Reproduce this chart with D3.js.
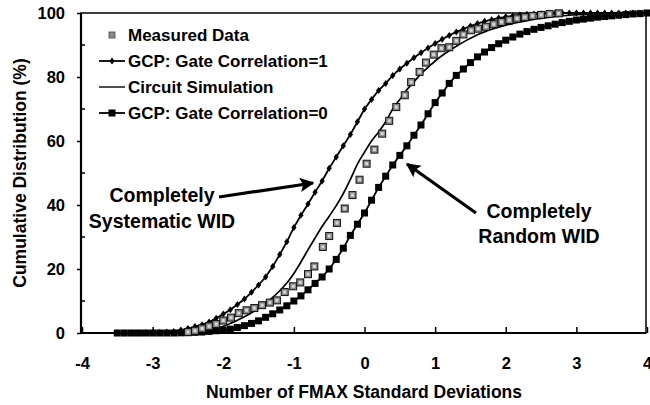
<!DOCTYPE html>
<html>
<head>
<meta charset="utf-8">
<script src="https://cdn.jsdelivr.net/npm/d3@7"></script>
<style>
  body { margin: 0; background: #fff; }
  text { font-family: "Liberation Sans", Arial, sans-serif; font-weight: bold; fill: #000; }
</style>
</head>
<body>
<svg id="chart" width="650" height="405"></svg>
<script>
(function () {
    var width = 650, height = 405;

    // model grid, -3.5 .. 4.0 in steps of 0.1 standard deviations
    const xGrid = [-3.5, -3.4, -3.3, -3.2, -3.1, -3.0, -2.9, -2.8, -2.7, -2.6,
        -2.5, -2.4, -2.3, -2.2, -2.1, -2.0, -1.9, -1.8, -1.7, -1.6,
        -1.5, -1.4, -1.3, -1.2, -1.1, -1.0, -0.9, -0.8, -0.7, -0.6,
        -0.5, -0.4, -0.3, -0.2, -0.1, 0.0, 0.1, 0.2, 0.3, 0.4,
        0.5, 0.6, 0.7, 0.8, 0.9, 1.0, 1.1, 1.2, 1.3, 1.4,
        1.5, 1.6, 1.7, 1.8, 1.9, 2.0, 2.1, 2.2, 2.3, 2.4,
        2.5, 2.6, 2.7, 2.8, 2.9, 3.0, 3.1, 3.2, 3.3, 3.4,
        3.5, 3.6, 3.7, 3.8, 3.9, 4.0];

    // GCP: Gate Correlation=1 (completely systematic)
    const gcpCorr1 = [0, 0, 0, 0, 0.1, 0.1, 0.2, 0.3, 0.5, 0.9,
        1.4, 2.0, 2.6, 3.4, 4.6, 5.9, 7.3, 8.9, 10.6, 12.7,
        15.0, 17.5, 20.8, 24.5, 28.5, 33.0, 36.8, 40.3, 44.0, 47.5,
        51.5, 55.0, 58.5, 62.0, 66.0, 70.0, 73.0, 75.8, 78.0, 80.5,
        82.5, 84.3, 86.0, 87.6, 89.1, 90.5, 91.8, 93.0, 94.1, 95.0,
        95.9, 96.7, 97.4, 97.9, 98.4, 98.8, 99.1, 99.4, 99.6, 99.7,
        99.8, 99.9, 100, 100, 100, 100, 100, 100, 100, 100,
        100, 100, 100, 100, 100, 100];

    // Circuit simulation
    const circuitSim = [0, 0, 0, 0, 0, 0, 0, 0, 0, 0.05,
        0.1, 0.2, 0.5, 0.8, 1.4, 2.1, 3.0, 4.0, 5.1, 6.3,
        7.7, 9.3, 11.1, 13.2, 15.6, 18.6, 22.2, 26.0, 29.7, 33.3,
        36.5, 39.8, 43.6, 48.0, 52.8, 56.5, 60.0, 62.8, 66.0, 70.0,
        73.0, 76.0, 78.5, 81.0, 83.0, 85.0, 86.7, 88.2, 89.6, 90.9,
        92.1, 93.2, 94.1, 94.9, 95.6, 96.2, 96.7, 97.2, 97.6, 98.0,
        98.3, 98.6, 98.9, 99.1, 99.3, 99.5, 99.6, 99.7, 99.8, 99.8,
        99.9, 99.9, 100, 100, 100, 100];

    // GCP: Gate Correlation=0 (completely random)
    const gcpCorr0 = [0, 0, 0, 0, 0, 0, 0, 0, 0, 0.05,
        0.1, 0.2, 0.3, 0.5, 0.7, 0.9, 1.2, 1.7, 2.3, 3.0,
        3.8, 4.9, 6.0, 7.2, 8.5, 10.0, 11.6, 13.5, 15.5, 17.5,
        20.0, 23.0, 26.5, 30.5, 34.0, 37.5, 41.5, 45.5, 49.0, 52.5,
        55.5, 58.5, 61.8, 65.0, 68.5, 72.0, 75.0, 78.0, 80.5, 82.5,
        84.5, 86.3, 87.8, 89.2, 90.4, 91.5, 92.5, 93.4, 94.2, 94.9,
        95.5, 96.0, 96.5, 97.0, 97.4, 97.8, 98.1, 98.4, 98.7, 98.9,
        99.1, 99.3, 99.5, 99.7, 99.8, 100];

    // measured data (x in std devs, y in %)
    const measuredX = [-2.5, -2.4, -2.3, -2.2, -2.1, -2.0, -1.89, -1.78, -1.67, -1.56,
        -1.45, -1.34, -1.24, -1.13, -1.01, -0.91, -0.8, -0.71, -0.59, -0.5,
        -0.39, -0.28, -0.17, -0.07, 0.03, 0.14, 0.25, 0.35, 0.45, 0.57,
        0.66, 0.78, 0.87, 0.98, 1.09, 1.2, 1.3, 1.4, 1.51, 1.61,
        1.72, 1.83, 1.94, 2.05, 2.16, 2.27, 2.38, 2.5, 2.62, 2.75];
    const measuredY = [0.3, 0.7, 1.4, 2.1, 2.8, 3.9, 4.8, 6.2, 7.1, 7.8,
        8.7, 9.5, 10.2, 12.8, 14.6, 15.8, 18.4, 20.8, 26.9, 30.3,
        34.4, 38.9, 43.1, 47.9, 52.9, 57.3, 62.3, 66.3, 70.6, 74.3,
        78.4, 81.6, 84.5, 87.0, 89.0, 89.3, 91.3, 93.3, 94.6, 95.1,
        95.7, 96.5, 97.2, 97.8, 98.3, 98.7, 99.1, 99.4, 99.7, 99.9];

    const xTicks = [-4, -3, -2, -1, 0, 1, 2, 3, 4];
    const yTicks = [0, 20, 40, 60, 80, 100];
    const yMinorTicks = [10, 30, 50, 70, 90];

    const legendLabels = ["Measured Data", "GCP: Gate Correlation=1", "Circuit Simulation", "GCP: Gate Correlation=0"];

    const left = 81, right = 646, top = 13, bottom = 333;

    const x = d3.scaleLinear().domain([-4, 4]).range([left + 1, right + 1]);
    const y = d3.scaleLinear().domain([0, 100]).range([bottom, top]);

    const svg = d3.select("#chart");

    const defs = svg.append("defs");
    defs.append("marker")
        .attr("id", "arrow")
        .attr("viewBox", "0 0 10 10")
        .attr("refX", 9).attr("refY", 5)
        .attr("markerWidth", 5.5).attr("markerHeight", 4.5)
        .attr("markerUnits", "strokeWidth")
        .attr("orient", "auto")
        .append("path")
        .attr("d", "M0,0 L10,5 L0,10 L2,5 z")
        .attr("fill", "#000");

    // frame
    svg.append("rect")
        .attr("x", left).attr("y", top)
        .attr("width", right - left).attr("height", bottom - top)
        .attr("fill", "none").attr("stroke", "#000").attr("stroke-width", 1.5);
    svg.append("line").attr("x1", left).attr("x2", left).attr("y1", top).attr("y2", bottom)
        .attr("stroke", "#000").attr("stroke-width", 2.2);
    svg.append("line").attr("x1", left).attr("x2", right).attr("y1", bottom).attr("y2", bottom)
        .attr("stroke", "#000").attr("stroke-width", 2.2);

    // x axis (plain hyphen minus like the original)
    const xAxis = d3.axisBottom(x).tickValues(xTicks).tickSize(-6).tickPadding(24)
        .tickFormat(d => String(d));
    const gx = svg.append("g").attr("transform", `translate(0,${bottom})`).call(xAxis);
    gx.select(".domain").remove();
    gx.selectAll(".tick line").attr("stroke", "#000").attr("stroke-width", 1.5);
    gx.selectAll(".tick text").attr("font-size", 16.5).attr("font-family", "Liberation Sans")
        .attr("font-weight", "bold").attr("fill", "#000");

    // y axis
    const yAxis = d3.axisLeft(y).tickValues(yTicks).tickSize(4).tickPadding(12);
    const gy = svg.append("g").attr("transform", `translate(${left},0)`).call(yAxis);
    gy.select(".domain").remove();
    gy.selectAll(".tick line").attr("stroke", "#000").attr("stroke-width", 1.5);
    gy.selectAll(".tick text").attr("font-size", 16.5).attr("font-family", "Liberation Sans")
        .attr("font-weight", "bold").attr("fill", "#000");
    svg.append("g").selectAll("line")
        .data(yMinorTicks)
        .join("line")
        .attr("x1", left).attr("x2", left + 4)
        .attr("y1", d => y(d)).attr("y2", d => y(d))
        .attr("stroke", "#000").attr("stroke-width", 1.5);

    // axis titles
    svg.append("text")
        .attr("x", 364).attr("y", 398)
        .attr("text-anchor", "middle").attr("font-size", 17.5)
        .text("Number of FMAX Standard Deviations");
    svg.append("text")
        .attr("transform", "translate(26,173) rotate(-90)")
        .attr("text-anchor", "middle").attr("font-size", 17.5)
        .text("Cumulative Distribution (%)");

    const line = d3.line().x(d => x(d[0])).y(d => y(d[1]));
    const smooth = d3.line().x(d => x(d[0])).y(d => y(d[1])).curve(d3.curveMonotoneX);

    const corr1 = xGrid.map((v, i) => [v, gcpCorr1[i]]);
    const corr0 = xGrid.map((v, i) => [v, gcpCorr0[i]]);
    const sim = xGrid.map((v, i) => [v, circuitSim[i]]);
    const measured = measuredX.map((v, i) => [v, measuredY[i]]);

    // circuit simulation
    svg.append("path").attr("d", smooth(sim))
        .attr("fill", "none").attr("stroke", "#000").attr("stroke-width", 1.7);

    // GCP corr = 0 : line + filled squares
    svg.append("path").attr("d", line(corr0))
        .attr("fill", "none").attr("stroke", "#000").attr("stroke-width", 1.8);
    svg.append("g").selectAll("rect")
        .data(corr0)
        .join("rect")
        .attr("x", d => x(d[0]) - 3.5).attr("y", d => y(d[1]) - 3.5)
        .attr("width", 7).attr("height", 7)
        .attr("fill", "#000");

    // GCP corr = 1 : line + diamonds
    svg.append("path").attr("d", line(corr1))
        .attr("fill", "none").attr("stroke", "#000").attr("stroke-width", 1.8);
    const diamond = "M0,-3.5 L2.6,0 L0,3.5 L-2.6,0 Z";
    svg.append("g").selectAll("path")
        .data(corr1)
        .join("path")
        .attr("d", diamond)
        .attr("transform", d => `translate(${x(d[0])},${y(d[1])})`)
        .attr("fill", "#000");

    // measured data : grey boxed squares
    const mg = svg.append("g").selectAll("g")
        .data(measured)
        .join("g")
        .attr("transform", d => `translate(${x(d[0])},${y(d[1])})`);
    mg.append("rect")
        .attr("x", -3.5).attr("y", -3.5).attr("width", 7).attr("height", 7)
        .attr("fill", "#8c8c8c").attr("stroke", "#111").attr("stroke-width", 1);
    mg.append("rect")
        .attr("x", -1.5).attr("y", -1.5).attr("width", 3).attr("height", 3)
        .attr("fill", "#d8d8d8");

    // legend
    const legY = [35, 61, 87, 113];
    const lx0 = 99, lx1 = 125, lxm = 112;
    const leg = svg.append("g");
    leg.append("rect").attr("x", lxm - 3).attr("y", legY[0] - 3).attr("width", 6).attr("height", 6)
        .attr("fill", "#8c8c8c").attr("stroke", "#444").attr("stroke-width", 0.8);
    [1, 2, 3].forEach(i => {
        leg.append("line").attr("x1", lx0).attr("x2", lx1)
            .attr("y1", legY[i]).attr("y2", legY[i])
            .attr("stroke", "#000").attr("stroke-width", i === 2 ? 1.4 : 1.8);
    });
    leg.append("path").attr("d", diamond).attr("transform", `translate(${lxm},${legY[1]})`);
    leg.append("rect").attr("x", lxm - 3.5).attr("y", legY[3] - 3.5).attr("width", 7).attr("height", 7);
    leg.selectAll("text")
        .data(legendLabels)
        .join("text")
        .attr("x", 128)
        .attr("y", (d, i) => legY[i] + 6)
        .attr("font-size", 17)
        .text(d => d);

    // annotations
    svg.append("text").attr("x", 162).attr("y", 202).attr("text-anchor", "middle")
        .attr("font-size", 19.5).text("Completely");
    svg.append("text").attr("x", 162).attr("y", 228).attr("text-anchor", "middle")
        .attr("font-size", 19.5).text("Systematic WID");
    svg.append("text").attr("x", 539).attr("y", 218).attr("text-anchor", "middle")
        .attr("font-size", 19.5).text("Completely");
    svg.append("text").attr("x", 539).attr("y", 243).attr("text-anchor", "middle")
        .attr("font-size", 19.5).text("Random WID");

    svg.append("line")
        .attr("x1", 219).attr("y1", 197).attr("x2", 313).attr("y2", 183)
        .attr("stroke", "#000").attr("stroke-width", 3.2)
        .attr("marker-end", "url(#arrow)");
    svg.append("line")
        .attr("x1", 476).attr("y1", 213).attr("x2", 407).attr("y2", 164)
        .attr("stroke", "#000").attr("stroke-width", 3.2)
        .attr("marker-end", "url(#arrow)");
})();
</script>
</body>
</html>
